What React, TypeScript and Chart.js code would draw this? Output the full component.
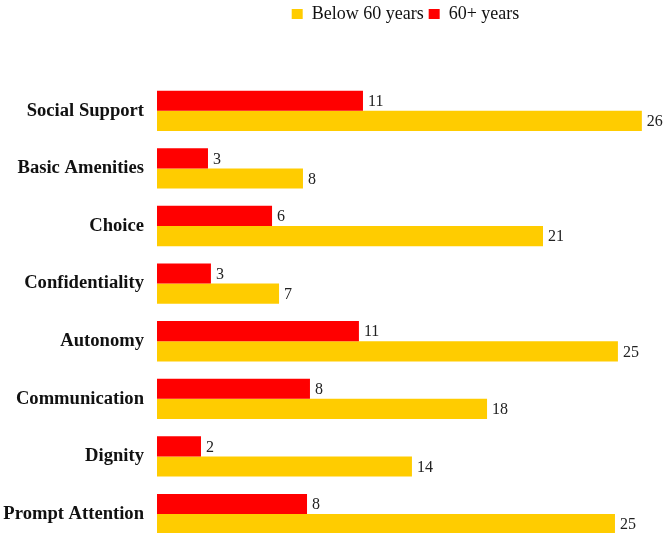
import React, { useEffect, useRef } from "react";
import { Chart, registerables } from "chart.js";

Chart.register(...registerables);

const categories = [
  "Social Support",
  "Basic Amenities",
  "Choice",
  "Confidentiality",
  "Autonomy",
  "Communication",
  "Dignity",
  "Prompt Attention",
];
const seniorValues = [11.19, 2.77, 6.25, 2.93, 10.97, 8.31, 2.39, 8.15];
const belowValues = [26.34, 7.93, 20.97, 6.63, 25.04, 17.93, 13.85, 24.88];
const seriesNames = ["60+ years", "Below 60 years"];
const seriesColors = ["#FF0000", "#FFCC00"];

const FONT = "'Liberation Serif', 'Times New Roman', serif";

const legendSpacer = {
  id: "legendSpacer",
  beforeInit(chart: any) {
    const legend = chart.legend;
    if (!legend) return;
    const origFit = legend.fit;
    legend.fit = function () {
      origFit.call(this);
      this.height += 49;
    };
  },
};

const valueLabels = {
  id: "valueLabels",
  afterDatasetsDraw(chart: any) {
    const ctx = chart.ctx;
    ctx.save();
    ctx.font = `16px ${FONT}`;
    ctx.fillStyle = "#222222";
    ctx.textAlign = "left";
    ctx.textBaseline = "middle";
    chart.data.datasets.forEach((ds: any, di: number) => {
      const meta = chart.getDatasetMeta(di);
      meta.data.forEach((bar: any, i: number) => {
        const v = ds.data[i];
        ctx.fillText(String(Math.round(v)), bar.x + 5, bar.y + 1);
      });
    });
    ctx.restore();
  },
};

export default function App() {
  const ref = useRef<HTMLCanvasElement | null>(null);
  useEffect(() => {
    if (!ref.current) return;
    const chart = new Chart(ref.current, {
      type: "bar",
      data: {
        labels: categories,
        datasets: [
          {
            label: seriesNames[0],
            data: seniorValues,
            backgroundColor: seriesColors[0],
            borderWidth: 0,
            barPercentage: 1,
            categoryPercentage: 0.7,
          },
          {
            label: seriesNames[1],
            data: belowValues,
            backgroundColor: seriesColors[1],
            borderWidth: 0,
            barPercentage: 1,
            categoryPercentage: 0.7,
          },
        ],
      },
      options: {
        indexAxis: "y",
        animation: false,
        responsive: false,
        maintainAspectRatio: false,
        devicePixelRatio: 1,
        layout: { padding: { top: 0, right: 12, bottom: 0, left: 0 } },
        plugins: {
          legend: {
            position: "top",
            fullSize: false,
            reverse: true,
            labels: {
              boxWidth: 11,
              boxHeight: 10,
              padding: 5,
              color: "#111111",
              font: { family: FONT, size: 18 },
            },
          },
          tooltip: { enabled: false },
          title: { display: false },
        },
        scales: {
          x: {
            display: false,
            min: 0,
            max: 27,
          },
          y: {
            grid: { display: false, drawTicks: false },
            border: { display: false },
            ticks: {
              padding: 13,
              color: "#111111",
              font: { family: FONT, size: 18.6, weight: "bold" },
            },
            afterFit(scale: any) {
              scale.width = 157;
            },
          },
        },
      },
      plugins: [legendSpacer, valueLabels],
    });
    return () => chart.destroy();
  }, []);
  return (
    <div style={{ position: "fixed", left: 0, top: 0, width: 666, height: 533, overflow: "hidden", background: "#fff" }}>
      <canvas ref={ref} width={666} height={567} style={{ display: "block", width: 666, height: 567 }} />
    </div>
  );
}
